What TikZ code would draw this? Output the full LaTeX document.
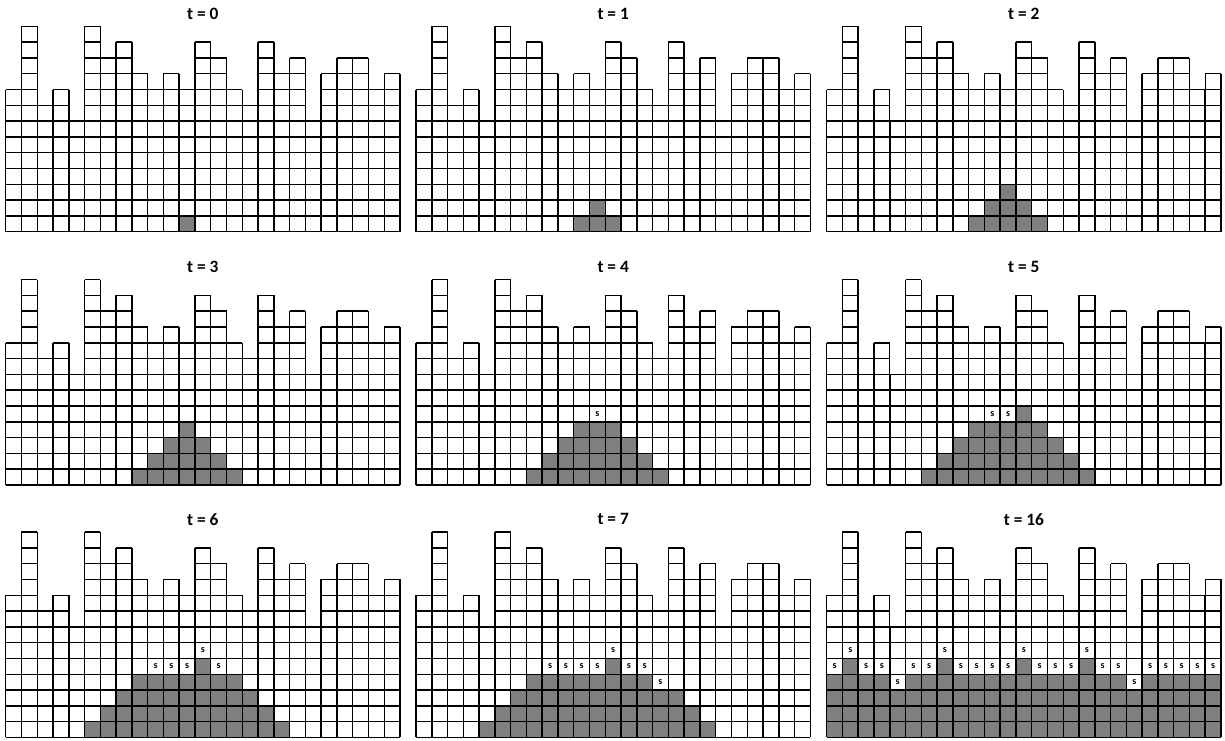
\documentclass[tikz,border=0pt]{standalone}
\usepackage{fontspec}
\setmainfont{Carlito}
\usepackage{tikz}
\definecolor{pilegray}{HTML}{808080}

% heights of the 25 columns
\newcommand{\pileheights}{9,13,8,9,7,13,11,12,10,9,10,9,12,11,9,8,12,10,11,7,10,11,11,9,10}

% #1 name, #2 x, #3 y, #4 title, #5 filled runs row/from/to, #6 s cells row/col
\newcommand{\pilepanel}[6]{%
  \begin{scope}[shift={(#2pt,#3pt)}, x=11.83pt, y=11.85pt]
    \foreach \r/\a/\b in {#5} \fill[pilegray] (\a-1,\r-1) rectangle (\b,\r);
    \foreach \h [count=\c] in \pileheights
      \draw[cell] (\c-1,0) grid (\c,\h);
    \foreach \r/\c in {#6} \node (#1-s-\r-\c) [slabel] at (\c-0.5,\r-0.5) {s};
    \node (#1-title) [paneltitle] at (12.5,13) {#4};
  \end{scope}}

\begin{document}
\begin{tikzpicture}[
        cell/.style={draw=black, line width=1.1pt, step=1},
        slabel/.style={font=\bfseries\fontsize{7.5}{8}\selectfont, inner sep=0pt},
        paneltitle/.style={font=\bfseries\fontsize{13}{15}\selectfont, inner sep=0pt, yshift=9.5pt}
    ]
    \useasboundingbox (0,0) rectangle (918.75pt,555pt);

    \pilepanel{t0}{4.28}{381.2}{t = 0}{1/12/12}{}
    \pilepanel{t1}{312}{381.2}{t = 1}{1/11/13, 2/12/12}{}
    \pilepanel{t2}{620}{381.2}{t = 2}{1/10/14, 2/11/13, 3/12/12}{}

    \pilepanel{t3}{4.28}{191.25}{t = 3}{1/9/15, 2/10/14, 3/11/13, 4/12/12}{}
    \pilepanel{t4}{312}{191.25}{t = 4}{1/8/16, 2/9/15, 3/10/14, 4/11/13}{5/12}
    \pilepanel{t5}{620}{191.25}{t = 5}{1/7/17, 2/8/16, 3/9/15, 4/10/14, 5/13/13}{5/11, 5/12}

    \pilepanel{t6}{4.28}{1.9}{t = 6}{1/6/18, 2/7/17, 3/8/16, 4/9/15, 5/13/13}{5/10, 5/11, 5/12, 5/14, 6/13}
    \pilepanel{t7}{312}{1.9}{t = 7}{1/5/19, 2/6/18, 3/7/17, 4/8/15, 5/13/13}{4/16, 5/9, 5/10, 5/11, 5/12, 5/14, 5/15, 6/13}
    \pilepanel{t16}{620}{1.9}{t = 16}{1/1/25, 2/1/25, 3/1/25, 4/1/4, 4/6/19, 4/21/25, 5/2/2, 5/8/8, 5/13/13, 5/17/17}{4/5, 4/20, 5/1, 5/3, 5/4, 5/6, 5/7, 5/9, 5/10, 5/11, 5/12, 5/14, 5/15, 5/16, 5/18, 5/19, 5/21, 5/22, 5/23, 5/24, 5/25, 6/2, 6/8, 6/13, 6/17}
\end{tikzpicture}
\end{document}
